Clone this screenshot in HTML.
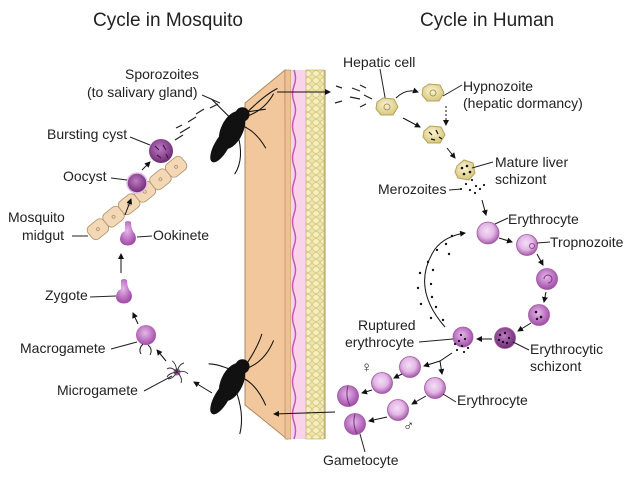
<!DOCTYPE html>
<html><head><meta charset="utf-8"><style>
html,body{margin:0;padding:0;background:#fff}
svg{display:block}
text{font-family:"Liberation Sans",sans-serif;font-size:14px;fill:#222}
.t{font-size:19px}
</style></head><body>
<svg width="638" height="479" viewBox="0 0 638 479" xmlns="http://www.w3.org/2000/svg">
<defs>
<marker id="a" markerWidth="6" markerHeight="6" refX="5" refY="3" orient="auto"><path d="M0,0L6,3L0,6z" fill="#111"/></marker>
<radialGradient id="p" cx="45%" cy="40%" r="60%"><stop offset="0" stop-color="#f3dff5"/><stop offset="0.55" stop-color="#e3b6e6"/><stop offset="1" stop-color="#a45aa8"/></radialGradient>
<radialGradient id="pd" cx="45%" cy="40%" r="60%"><stop offset="0" stop-color="#c07ac5"/><stop offset="1" stop-color="#6d2a72"/></radialGradient>
<radialGradient id="ps" cx="45%" cy="40%" r="60%"><stop offset="0" stop-color="#e6b8ea"/><stop offset="1" stop-color="#a24ba8"/></radialGradient>
<radialGradient id="h" cx="45%" cy="40%" r="60%"><stop offset="0" stop-color="#fbf4d2"/><stop offset="1" stop-color="#d7c77e"/></radialGradient>
<pattern id="bub" width="8" height="7" patternUnits="userSpaceOnUse"><rect width="8" height="7" fill="#eee3a8"/><ellipse cx="4" cy="3.5" rx="3.3" ry="2.8" fill="#f7efc2" stroke="#c9bb6c" stroke-width="0.6"/></pattern>
</defs>
<text class="t" x="93" y="26">Cycle in Mosquito</text>
<text class="t" x="420" y="26">Cycle in Human</text>

<!-- skin slab -->
<polygon points="245,103 285,70 287,439 245,405" fill="#f1c79b" stroke="#b08660" stroke-width="1"/>
<rect x="285" y="70" width="6" height="369" fill="#edc195" stroke="#b08660" stroke-width="0.6"/>
<rect x="291" y="70" width="15" height="369" fill="#f8d3ea"/>
<path d="M294,70 q3,8 0,16 q-3,8 0,16 q3,8 0,16 q-3,8 0,16 q3,8 0,16 q-3,8 0,16 q3,8 0,16 q-3,8 0,16 q3,8 0,16 q-3,8 0,16 q3,8 0,16 q-3,8 0,16 q3,8 0,16 q-3,8 0,16 q3,8 0,16 q-3,8 0,16 q3,8 0,16 q-3,8 0,16 q3,8 0,16 q-3,8 0,16 q3,8 0,16 q-3,8 0,16 q3,9 0,17" fill="none" stroke="#c858b8" stroke-width="1.5"/>
<rect x="306" y="70" width="18" height="369" fill="url(#bub)" stroke="#b9a95a" stroke-width="0.6"/>
<line x1="325" y1="70" x2="325" y2="439" stroke="#a89a50" stroke-width="1"/>

<!-- mosquitoes -->
<g fill="#111" stroke="#111">
<g transform="translate(232,130) scale(1.3)">
<ellipse cx="0" cy="0" rx="8" ry="15" transform="rotate(25)"/>
<ellipse cx="-8" cy="12" rx="5" ry="14" transform="rotate(30 -8 12)"/>
<circle cx="8" cy="-12" r="5"/>
<g fill="none" stroke-width="0.8"><path d="M10,-12 q15,-15 25,-20"/><path d="M10,-10 q15,-5 22,-18"/><path d="M6,-4 q12,4 20,18"/><path d="M4,2 q6,20 -2,32"/><path d="M-2,-10 q-10,-10 -14,-14"/><path d="M12,-14 l14,-2"/></g>
</g>
<g transform="translate(232,382) scale(1.3)">
<ellipse cx="0" cy="0" rx="8" ry="15" transform="rotate(25)"/>
<ellipse cx="-8" cy="12" rx="5" ry="14" transform="rotate(30 -8 12)"/>
<circle cx="8" cy="-12" r="5"/>
<g fill="none" stroke-width="0.8"><path d="M10,-12 q10,-15 13,-25"/><path d="M10,-10 q15,-5 22,-22"/><path d="M6,-4 q12,4 20,22"/><path d="M2,4 q8,20 4,36"/><path d="M-2,-10 q-10,-4 -16,-4"/></g>
</g>
</g>

<!-- skin arrows -->
<line x1="277" y1="92" x2="330" y2="92" stroke="#111" marker-end="url(#a)"/>
<line x1="335" y1="412" x2="274" y2="414" stroke="#111" marker-end="url(#a)"/>

<!-- left cycle -->
<text x="125" y="79">Sporozoites</text>
<text x="87" y="97">(to salivary gland)</text>
<line x1="202" y1="95" x2="220" y2="103" stroke="#222"/>
<g stroke="#222" stroke-width="1.2"><line x1="175" y1="140" x2="183" y2="135"/><line x1="180" y1="133" x2="190" y2="127"/><line x1="188" y1="122" x2="196" y2="117"/><line x1="196" y1="114" x2="204" y2="109"/><line x1="210" y1="108" x2="218" y2="104"/><line x1="176" y1="128" x2="182" y2="125"/></g>

<g fill="#f3d8b6" stroke="#b0916a" stroke-width="0.8">
<g transform="rotate(-38.6 137 198)">
<rect x="77" y="190" width="20" height="16" rx="5"/><rect x="97" y="190" width="20" height="16" rx="5"/><rect x="117" y="190" width="20" height="16" rx="5"/><rect x="137" y="190" width="20" height="16" rx="5"/><rect x="157" y="190" width="20" height="16" rx="5"/><rect x="177" y="190" width="20" height="16" rx="5"/>
<circle cx="87" cy="198" r="1.5"/><circle cx="107" cy="198" r="1.5"/><circle cx="127" cy="198" r="1.5"/><circle cx="147" cy="198" r="1.5"/><circle cx="167" cy="198" r="1.5"/><circle cx="187" cy="198" r="1.5"/>
</g></g>
<circle cx="161" cy="151" r="12" fill="url(#pd)"/>
<g stroke="#3a0f3e" stroke-width="1"><line x1="155" y1="146" x2="159" y2="150"/><line x1="163" y1="145" x2="166" y2="150"/><line x1="157" y1="155" x2="161" y2="158"/><line x1="166" y1="154" x2="168" y2="158"/></g>
<text x="47" y="139">Bursting cyst</text>
<line x1="130" y1="137" x2="150" y2="145" stroke="#222"/>
<circle cx="137" cy="183" r="10" fill="url(#pd)" stroke="#e0bfe4" stroke-width="1.5"/>
<text x="63" y="181">Oocyst</text>
<line x1="111" y1="178" x2="127" y2="180" stroke="#222"/>
<line x1="142" y1="170" x2="150" y2="162" stroke="#111" marker-end="url(#a)"/>
<line x1="125" y1="215" x2="131" y2="199" stroke="#111" marker-end="url(#a)"/>
<text x="8" y="222">Mosquito</text>
<text x="22" y="240">midgut</text>
<line x1="72" y1="236" x2="88" y2="236" stroke="#222"/>
<path d="M125,222 q3,-2 6,0 q0,8 4,12 q3,8 -4,11 q-9,2 -11,-5 q0,-7 5,-9 z" fill="url(#ps)"/>
<text x="153" y="240">Ookinete</text>
<line x1="137" y1="237" x2="152" y2="236" stroke="#222"/>
<line x1="121" y1="273" x2="121" y2="254" stroke="#111" marker-end="url(#a)"/>
<path d="M121,280 q3,-2 6,0 q0,8 4,12 q3,8 -4,11 q-9,2 -11,-5 q0,-7 5,-9 z" fill="url(#ps)"/>
<text x="45" y="300">Zygote</text>
<line x1="90" y1="297" x2="116" y2="296" stroke="#222"/>
<line x1="138" y1="324" x2="133" y2="313" stroke="#111" marker-end="url(#a)"/>
<circle cx="146" cy="335" r="10" fill="url(#ps)"/>
<path d="M143,344 q-5,5 -2,10 M148,345 q5,4 2,10" fill="none" stroke="#222"/>
<text x="20" y="353">Macrogamete</text>
<line x1="111" y1="349" x2="137" y2="342" stroke="#222"/>
<line x1="166" y1="361" x2="157" y2="350" stroke="#111" marker-end="url(#a)"/>
<circle cx="177" cy="372" r="3.5" fill="#b05ab5"/>
<g fill="none" stroke="#333" stroke-width="0.9"><path d="M177,372 q-6,-6 -10,-3"/><path d="M177,372 q2,-8 7,-9"/><path d="M177,372 q8,-2 11,2"/><path d="M177,372 q6,6 4,11"/><path d="M177,372 q-4,7 -9,7"/><path d="M177,372 q-8,1 -10,5"/><path d="M177,372 q-1,-9 -5,-11"/></g>
<text x="57" y="395">Microgamete</text>
<line x1="144" y1="391" x2="172" y2="376" stroke="#222"/>
<line x1="212" y1="393" x2="194" y2="382" stroke="#111" marker-end="url(#a)"/>

<!-- human cycle -->
<text x="343" y="67">Hepatic cell</text>
<line x1="380" y1="69" x2="386" y2="103" stroke="#222"/>
<g stroke="#222" stroke-width="1.2"><line x1="336" y1="86" x2="342" y2="88"/><line x1="352" y1="88" x2="360" y2="91"/><line x1="360" y1="85" x2="366" y2="88"/><line x1="335" y1="103" x2="342" y2="101"/><line x1="350" y1="97" x2="360" y2="99"/><line x1="364" y1="95" x2="372" y2="99"/><line x1="360" y1="107" x2="366" y2="104"/></g>
<polygon points="377,102 383,98 394,99 398,107 393,115 381,115 376,109" fill="url(#h)" stroke="#b5a35c"/>
<circle cx="387" cy="107" r="3" fill="none" stroke="#a89a60"/>
<path d="M396,98 q10,-10 22,-6" fill="none" stroke="#111" marker-end="url(#a)"/>
<polygon points="423,88 429,84 440,85 444,93 439,101 427,101 422,95" fill="url(#h)" stroke="#b5a35c"/>
<circle cx="433" cy="93" r="3" fill="none" stroke="#a89a60"/>
<text x="463" y="91">Hypnozoite</text>
<text x="463" y="108">(hepatic dormancy)</text>
<line x1="443" y1="96" x2="462" y2="85" stroke="#222"/>
<line x1="446" y1="106" x2="446" y2="125" stroke="#111" stroke-dasharray="2,2" marker-end="url(#a)"/>
<line x1="403" y1="118" x2="420" y2="127" stroke="#111" marker-end="url(#a)"/>
<polygon points="424,131 430,126 441,127 445,135 440,143 428,143 423,137" fill="url(#h)" stroke="#b5a35c"/>
<g stroke="#111" stroke-width="1.2"><line x1="429" y1="132" x2="432" y2="135"/><line x1="436" y1="130" x2="438" y2="134"/><line x1="431" y1="139" x2="435" y2="140"/><line x1="439" y1="137" x2="442" y2="139"/></g>
<line x1="447" y1="148" x2="455" y2="158" stroke="#111" marker-end="url(#a)"/>
<polygon points="457,166 464,160 473,163 475,173 469,180 458,178 455,172" fill="url(#h)" stroke="#b5a35c"/>
<g fill="#111"><circle cx="462" cy="168" r="1.3"/><circle cx="467" cy="166" r="1.3"/><circle cx="464" cy="174" r="1.3"/><circle cx="470" cy="172" r="1.3"/><circle cx="472" cy="180" r="1.1"/><circle cx="466" cy="184" r="1.1"/><circle cx="476" cy="186" r="1.1"/><circle cx="470" cy="190" r="1.1"/><circle cx="480" cy="189" r="1.1"/><circle cx="461" cy="189" r="1.1"/><circle cx="475" cy="193" r="1.1"/><circle cx="484" cy="185" r="1.1"/></g>
<text x="495" y="167">Mature liver</text>
<text x="495" y="184">schizont</text>
<line x1="472" y1="168" x2="493" y2="162" stroke="#222"/>
<text x="378" y="194">Merozoites</text>
<line x1="449" y1="190" x2="462" y2="189" stroke="#222"/>
<line x1="482" y1="200" x2="486" y2="215" stroke="#111" marker-end="url(#a)"/>

<g stroke="#9c5aa0" stroke-width="0.8">
<circle cx="488" cy="233" r="11" fill="url(#p)"/>
<circle cx="527" cy="245" r="10.5" fill="url(#p)"/>
<circle cx="547" cy="279" r="10.5" fill="url(#ps)"/>
<circle cx="539" cy="315" r="10.5" fill="url(#ps)"/>
<circle cx="505" cy="338" r="10.5" fill="url(#pd)"/>
<circle cx="463" cy="337" r="10" fill="url(#ps)"/>
<circle cx="410" cy="367" r="10.5" fill="url(#p)"/>
<circle cx="382" cy="383" r="10.5" fill="url(#p)"/>
<circle cx="348" cy="396" r="10.5" fill="url(#ps)"/>
<circle cx="435" cy="388" r="10.5" fill="url(#p)"/>
<circle cx="398" cy="410" r="10.5" fill="url(#p)"/>
<circle cx="355" cy="424" r="10.5" fill="url(#ps)"/>
</g>
<path d="M348,386 q-3,10 2,20 M355,414 q-3,10 2,20" fill="none" stroke="#7a357e"/>
<circle cx="532" cy="246" r="2.5" fill="none" stroke="#8a4a8e"/>
<path d="M544,279 a4,4 0 1,1 4,4" fill="none" stroke="#7a357e"/>
<g fill="#111"><circle cx="536" cy="312" r="1.3"/><circle cx="541" cy="317" r="1.3"/><circle cx="537" cy="319" r="1.2"/>
<circle cx="500" cy="335" r="1.2"/><circle cx="505" cy="333" r="1.2"/><circle cx="509" cy="338" r="1.2"/><circle cx="503" cy="342" r="1.2"/><circle cx="499" cy="340" r="1.2"/><circle cx="507" cy="343" r="1.2"/>
<circle cx="461" cy="335" r="1.1"/><circle cx="465" cy="339" r="1.1"/><circle cx="459" cy="341" r="1.1"/><circle cx="455" cy="344" r="1.1"/><circle cx="462" cy="346" r="1.1"/><circle cx="468" cy="348" r="1.1"/><circle cx="457" cy="350" r="1.1"/><circle cx="464" cy="352" r="1.1"/>
<circle cx="452" cy="236" r="1.2"/><circle cx="446" cy="244" r="1.2"/><circle cx="437" cy="250" r="1.2"/><circle cx="449" cy="254" r="1.2"/><circle cx="428" cy="262" r="1.2"/><circle cx="433" cy="270" r="1.2"/><circle cx="420" cy="273" r="1.2"/><circle cx="431" cy="284" r="1.2"/><circle cx="418" cy="288" r="1.2"/><circle cx="432" cy="297" r="1.2"/><circle cx="421" cy="304" r="1.2"/><circle cx="436" cy="307" r="1.2"/><circle cx="431" cy="318" r="1.2"/><circle cx="443" cy="320" r="1.2"/></g>
<path d="M445,327 q-35,-40 -10,-78 q10,-13 30,-16" fill="none" stroke="#111" marker-end="url(#a)"/>
<line x1="499" y1="238" x2="512" y2="242" stroke="#111" marker-end="url(#a)"/>
<line x1="537" y1="254" x2="543" y2="265" stroke="#111" marker-end="url(#a)"/>
<line x1="546" y1="292" x2="544" y2="302" stroke="#111" marker-end="url(#a)"/>
<line x1="531" y1="323" x2="518" y2="331" stroke="#111" marker-end="url(#a)"/>
<line x1="492" y1="339" x2="477" y2="339" stroke="#111" marker-end="url(#a)"/>
<text x="508" y="224">Erythrocyte</text>
<line x1="495" y1="224" x2="508" y2="218" stroke="#222"/>
<text x="550" y="247">Tropnozoite</text>
<line x1="537" y1="243" x2="550" y2="242" stroke="#222"/>
<text x="530" y="354">Erythrocytic</text>
<text x="530" y="371">schizont</text>
<line x1="513" y1="342" x2="529" y2="350" stroke="#222"/>
<text x="358" y="330">Ruptured</text>
<text x="345" y="347">erythrocyte</text>
<line x1="419" y1="342" x2="453" y2="339" stroke="#222"/>
<path d="M452,353 l-12,8 l-16,5" fill="none" stroke="#111" marker-end="url(#a)"/>
<path d="M440,361 l2,13" fill="none" stroke="#111" marker-end="url(#a)"/>
<line x1="402" y1="374" x2="394" y2="378" stroke="#111" marker-end="url(#a)"/>
<line x1="372" y1="390" x2="362" y2="393" stroke="#111" marker-end="url(#a)"/>
<line x1="426" y1="396" x2="412" y2="404" stroke="#111" marker-end="url(#a)"/>
<line x1="387" y1="417" x2="369" y2="421" stroke="#111" marker-end="url(#a)"/>
<text x="361" y="372" style="font-size:15px">♀</text>
<text x="403" y="431" style="font-size:15px">♂</text>
<text x="457" y="405">Erythrocyte</text>
<line x1="443" y1="394" x2="456" y2="402" stroke="#222"/>
<text x="323" y="465">Gametocyte</text>
<line x1="360" y1="434" x2="365" y2="452" stroke="#222"/>
</svg>
</body></html>
